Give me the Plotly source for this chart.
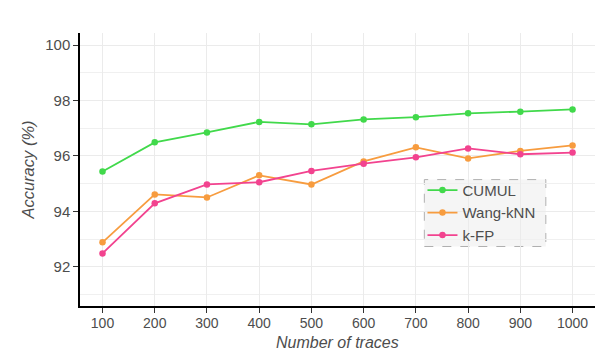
import plotly.graph_objects as go

traces = [100, 200, 300, 400, 500, 600, 700, 800, 900, 1000]
cumul = [95.44, 96.49, 96.85, 97.23, 97.14, 97.32, 97.40, 97.54, 97.60, 97.68]
wang_knn = [92.88, 94.61, 94.50, 95.30, 94.97, 95.80, 96.31, 95.91, 96.18, 96.38]
kfp = [92.48, 94.29, 94.97, 95.05, 95.46, 95.72, 95.95, 96.27, 96.06, 96.12]

names = ["CUMUL", "Wang-kNN", "k-FP"]
colors = ["#41d94b", "#f79c3f", "#f2438f"]

fig = go.Figure()
for name, ys, c in zip(names, [cumul, wang_knn, kfp], colors):
    fig.add_trace(go.Scatter(x=traces, y=ys, name=name, mode="lines+markers",
                             line=dict(color=c, width=1.8),
                             marker=dict(color=c, size=6.5)))

font_family = "Liberation Sans, Arial, sans-serif"
fig.update_layout(
    width=614, height=351,
    margin=dict(l=80, r=19, t=33, b=45, autoexpand=False),
    plot_bgcolor="white", paper_bgcolor="white",
    font=dict(family=font_family, size=14, color="#4d4d4d"),
    showlegend=True,
    legend=dict(x=0.665, y=0.484, xanchor="left", yanchor="top",
                bgcolor="rgba(0,0,0,0)", borderwidth=0,
                font=dict(size=15, color="#4d4d4d"),
                tracegroupgap=0, itemwidth=30),
    shapes=[dict(type="rect", xref="paper", yref="paper",
                 x0=0.6686, x1=0.9045, y0=0.218, y1=0.463,
                 line=dict(color="#b0b0b0", width=1, dash="dash"),
                 fillcolor="#f5f5f5", layer="below")],
    annotations=[dict(text="<i>Number of traces</i>", xref="paper", yref="paper",
                      x=0.5, y=0, xanchor="center", yanchor="top", yshift=-26,
                      showarrow=False, font=dict(size=16, color="#4d4d4d"))],
)
fig.update_xaxes(
    range=[56.9, 1043], tickvals=traces, ticktext=[str(t) for t in traces],
    showgrid=True, gridcolor="#ebebeb", gridwidth=1.3,
    showline=True, linecolor="black", linewidth=1.5,
    ticks="outside", ticklen=5, tickcolor="#333333",
    zeroline=False, automargin=False,
    tickfont=dict(size=14), ticklabelstandoff=-2,
)
fig.update_yaxes(
    range=[90.58, 100.44], tickvals=[92, 94, 96, 98, 100],
    showgrid=True, gridcolor="#ebebeb", gridwidth=1.3,
    minor=dict(tickvals=[91, 93, 95, 97, 99], showgrid=True, gridcolor="#f0f0f0", gridwidth=1.1),
    showline=True, linecolor="black", linewidth=1.5,
    ticks="outside", ticklen=5, tickcolor="#333333",
    zeroline=False, automargin=False,
    tickfont=dict(size=15),
    title=dict(text="<i>Accuracy (%)</i>", font=dict(size=16.5, color="#4d4d4d"), standoff=6),
)
fig.write_html("out.html")
